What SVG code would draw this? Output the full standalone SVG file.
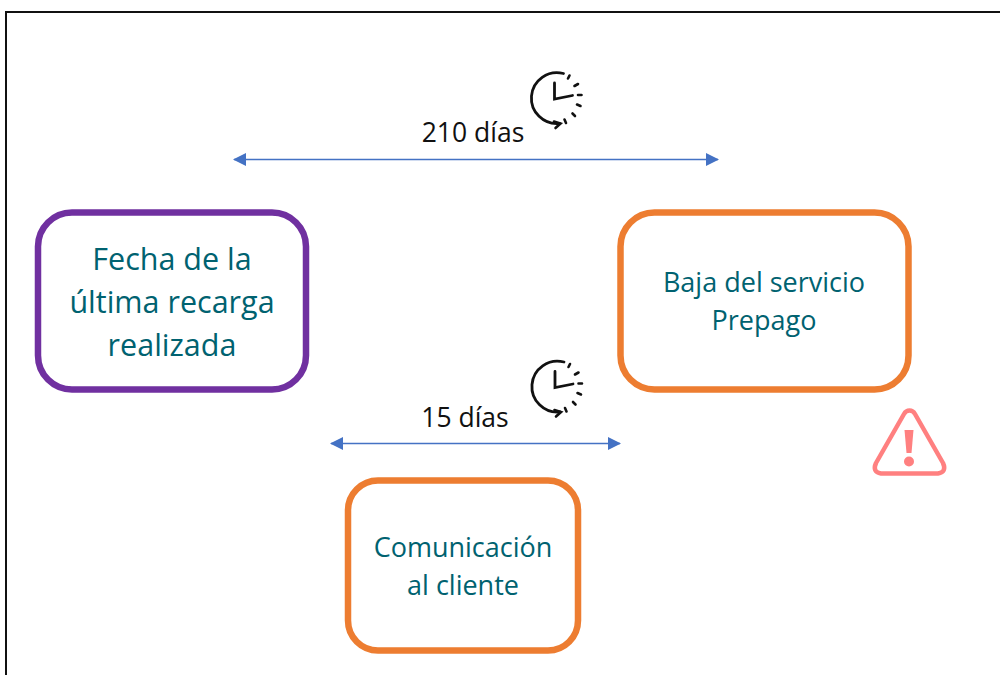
<svg xmlns="http://www.w3.org/2000/svg" width="1000" height="675" viewBox="0 0 1000 675">
<style>
text{font-family:"Open Sans","Noto Sans","Liberation Sans",sans-serif;text-anchor:middle}
.t{fill:#006270}
.k{fill:#111;font-size:26.500px}
.box{fill:#fff;stroke-width:6.500}
.con{stroke:#4472c4;stroke-width:1.5;fill:none;marker-start:url(#a);marker-end:url(#a)}
.clk{fill:none;stroke:#111;stroke-linecap:round}
</style>
<defs>
<marker id="a" viewBox="0 0 14 14" refX="12" refY="7" markerWidth="14" markerHeight="14" markerUnits="userSpaceOnUse" orient="auto-start-reverse"><path d="M0 0.5L13 7L0 13.500Z" fill="#4472c4"/></marker>
<g id="clock" class="clk">
<path d="M9 -25.500A25.500 25.500 0 1 0 5 24.500" stroke-width="2.800"/>
<path d="M-0.500 22.500L6 24.500L1 29" stroke-width="2.600"/>
<path d="M0 -16V0L18 -3.500" stroke-width="2.800"/>
<path d="M13.500 -20.500L15 -23.500M20 -13L23.500 -15M23.500 -4H27M22.500 5.500L26 7M18 14.500L20.500 17M10 20.500L11.500 24" stroke-width="2.600"/>
</g>
</defs>
<rect x="6" y="12" width="1000" height="680" fill="#fff" stroke="#111" stroke-width="2"/>
<g id="connectors">
<path class="con" d="M234 159.500H718"/>
<path class="con" d="M331 443.500H620"/>
</g>
<g id="node-fecha">
<rect class="box" x="38" y="212.500" width="268" height="177" rx="34" stroke="#7030a0"/>
<text class="t" font-size="30.500" x="172" y="270">Fecha de la</text>
<text class="t" font-size="30.500" x="172" y="313">última recarga</text>
<text class="t" font-size="30.500" x="172" y="356">realizada</text>
</g>
<g id="node-baja">
<rect class="box" x="620.500" y="212.500" width="288" height="177" rx="34" stroke="#ed7d31"/>
<text class="t" font-size="27" x="764" y="292">Baja del servicio</text>
<text class="t" font-size="27" x="764" y="330">Prepago</text>
</g>
<g id="node-comunicacion">
<rect class="box" x="348" y="480.500" width="230" height="170" rx="30" stroke="#ed7d31"/>
<text class="t" font-size="27" x="463" y="557">Comunicación</text>
<text class="t" font-size="27" x="463" y="595">al cliente</text>
</g>
<g id="label-210"><text class="k" x="473" y="142">210 días</text></g>
<g id="label-15"><text class="k" x="465" y="427">15 días</text></g>
<g id="clock-1"><use href="#clock" x="554.500" y="99"/></g>
<g id="clock-2"><use href="#clock" x="555" y="387.500"/></g>
<g id="warning">
<path d="M909.500 410.500Q913 410.500 915 414L943 463Q947 472 938 473.500H881Q872 472 876 463L904 414Q906 410.500 909.500 410.500Z" fill="#fff" stroke="#ff8080" stroke-width="4.500" stroke-linejoin="round"/>
<path d="M904.500 430H913.500L911.500 453H906.500Z" fill="#ff8080"/>
<circle cx="909" cy="461.500" r="5" fill="#ff8080"/>
</g>
</svg>
